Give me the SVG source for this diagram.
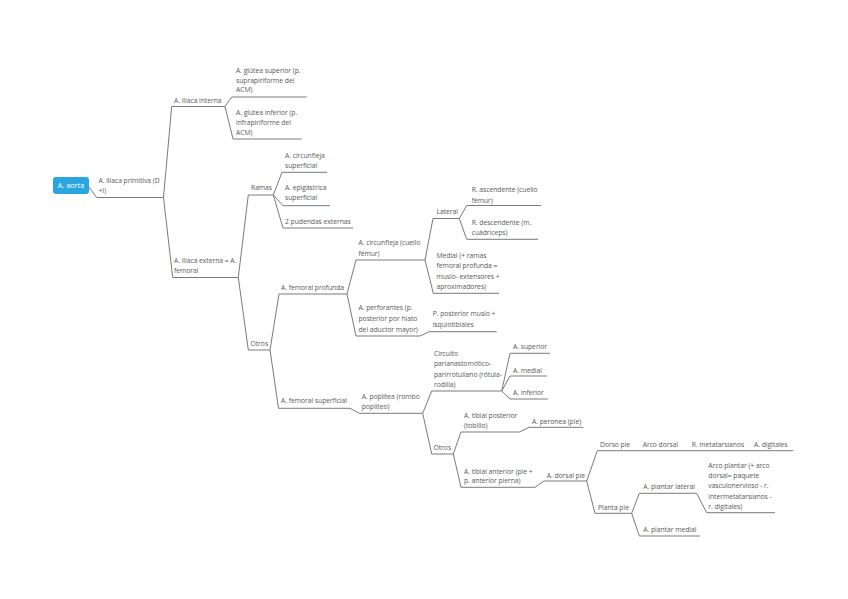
<svg xmlns="http://www.w3.org/2000/svg" width="848" height="599" viewBox="0 0 848 599">
<style>
.t{font-family:"Open Sans","Liberation Sans",sans-serif;font-size:6.8px;fill:#5a5a5a;letter-spacing:-0.05px;}
.u{stroke:#7a7a7a;stroke-width:1;fill:none;}
.c{stroke:#7a7a7a;stroke-width:1;fill:none;}
</style>
<rect width="848" height="599" fill="#fff"/>
<g id="connectors">
<path class="c" d="M88.5,186.5L96.7,197.5"/>
<path class="c" d="M163.5,197.5L171.7,106.5M163.5,197.5L172.7,277.5"/>
<path class="c" d="M225,106.5L231.7,97M225,106.5L233,139"/>
<path class="c" d="M238.3,277.5L248.3,195M238.3,277.5L248.3,350"/>
<path class="c" d="M273.3,195L282,172.3M273.3,195L283,205.7M273.3,195L283,228"/>
<path class="c" d="M270,350L279,294M270,350L278.5,408.3"/>
<path class="c" d="M347,294L356,260M347,294L356,336"/>
<path class="c" d="M425,260L433,218.5M425,260L433.3,293.3"/>
<path class="c" d="M459.3,218.5L466.7,205.5M459.3,218.5L466.7,239.3"/>
<path class="c" d="M420,336L429,331.7"/>
<path class="c" d="M350,408.3L359.3,413.3"/>
<path class="c" d="M422.7,413.3L431.7,391M422.7,413.3L431.7,454"/>
<path class="c" d="M501.7,391L510,353.3M501.7,391L510,376M501.7,391L510,399"/>
<path class="c" d="M453.3,454L461,432M453.3,454L461,487.3"/>
<path class="c" d="M519.3,432L529,427.3"/>
<path class="c" d="M535,487.3L544,481"/>
<path class="c" d="M586.7,481L597.3,450.7M586.7,481L595,513.3"/>
<path class="c" d="M631.7,513.3L639.3,493.3M631.7,513.3L639.3,536"/>
<path class="c" d="M696.7,493.3L706.7,512.7"/>
</g>
<g id="n-aorta">
<rect x="53" y="177" width="36" height="17" rx="3" fill="#2aa5e0"/>
<text x="71" y="188" text-anchor="middle" style="font-family:'Open Sans','Liberation Sans',sans-serif;font-size:7.3px;fill:#fff">A. aorta</text>
</g>
<g id="n-primitiva"><text class="t" x="98.5" y="182.5">A. iliaca primitiva (D</text><text class="t" x="98.5" y="193">+I)</text><path class="u" d="M96.7,197.5H163.5"/></g>
<g id="n-interna"><text class="t" x="174" y="102.5">A. iliaca interna</text><path class="u" d="M171.7,106.5H225"/></g>
<g id="n-gluteasup"><text class="t" x="236" y="72.5">A. glútea superior (p.</text><text class="t" x="236" y="82.5">suprapiriforme del</text><text class="t" x="236" y="92">ACM)</text><path class="u" d="M231.7,97H306.7"/></g>
<g id="n-gluteainf"><text class="t" x="236" y="115">A. glútea inferior (p.</text><text class="t" x="236" y="125">infrapiriforme del</text><text class="t" x="236" y="135">ACM)</text><path class="u" d="M233,139H301.7"/></g>
<g id="n-externa"><text class="t" x="174" y="262.5">A. iliaca externa = A.</text><text class="t" x="174" y="273">femoral</text><path class="u" d="M172.7,277.5H238.3"/></g>
<g id="n-ramas"><text class="t" x="251" y="190">Ramas</text><path class="u" d="M248.3,195H273.3"/></g>
<g id="n-circsup"><text class="t" x="285" y="157.5">A. circunfleja</text><text class="t" x="285" y="168">superficial</text><path class="u" d="M282,172.3H327"/></g>
<g id="n-epigastrica"><text class="t" x="285" y="190">A. epigástrica</text><text class="t" x="285" y="200">superficial</text><path class="u" d="M283,205.7H330"/></g>
<g id="n-pudendas"><text class="t" x="285" y="223.5">2 pudendas externas</text><path class="u" d="M283,228H353"/></g>
<g id="n-otros1"><text class="t" x="250.5" y="345.5">Otros</text><path class="u" d="M248.3,350H270"/></g>
<g id="n-femprof"><text class="t" x="281" y="289.5">A. femoral profunda</text><path class="u" d="M279,294H347"/></g>
<g id="n-circfemur"><text class="t" x="358.5" y="245">A. circunfleja  (cuello</text><text class="t" x="358.5" y="255.5">fémur)</text><path class="u" d="M356,260H425"/></g>
<g id="n-lateral"><text class="t" x="436.5" y="214">Lateral</text><path class="u" d="M433,218.5H459.3"/></g>
<g id="n-rasc"><text class="t" x="471.7" y="191.8">R. ascendente (cuello</text><text class="t" x="471.7" y="202.5">fémur)</text><path class="u" d="M466.7,205.5H541"/></g>
<g id="n-rdesc"><text class="t" x="471.7" y="224.8">R. descendente (m.</text><text class="t" x="471.7" y="235.2">cuádriceps)</text><path class="u" d="M466.7,239.3H538"/></g>
<g id="n-medial"><text class="t" x="436.5" y="257.5">Medial (+ ramas</text><text class="t" x="436.5" y="268.2">femoral profunda =</text><text class="t" x="436.5" y="278.5">muslo- extensores +</text><text class="t" x="436.5" y="289.2">aproximadores)</text><path class="u" d="M433.3,293.3H499"/></g>
<g id="n-perforantes"><text class="t" x="358.5" y="310">A. perforantes (p.</text><text class="t" x="358.5" y="321">posterior por hiato</text><text class="t" x="358.5" y="332">del aductor mayor)</text><path class="u" d="M356,336H420"/></g>
<g id="n-pposterior"><text class="t" x="432.7" y="316.3">P. posterior muslo +</text><text class="t" x="432.7" y="326.5">isquiotibiales</text><path class="u" d="M429,331.7H496.7"/></g>
<g id="n-femsup"><text class="t" x="281" y="403.2">A. femoral superficial</text><path class="u" d="M278.5,408.3H350"/></g>
<g id="n-poplitea"><text class="t" x="361.7" y="399.2">A. poplítea (rombo</text><text class="t" x="361.7" y="409">poplíteo)</text><path class="u" d="M359.3,413.3H422.7"/></g>
<g id="n-circuito"><text class="t" x="434" y="355.8">Circuito</text><text class="t" x="434" y="366">parianastomótico-</text><text class="t" x="434" y="376.8">parirrotuliano (rótula-</text><text class="t" x="434" y="386.8">rodilla)</text><path class="u" d="M431.7,391H501.7"/></g>
<g id="n-asup"><text class="t" x="513" y="349.2">A. superior</text><path class="u" d="M510,353.3H550"/></g>
<g id="n-amed"><text class="t" x="513" y="372.5">A. medial</text><path class="u" d="M510,376H547"/></g>
<g id="n-ainf"><text class="t" x="513" y="394.8">A. inferior</text><path class="u" d="M510,399H548"/></g>
<g id="n-otros2"><text class="t" x="433.5" y="449.8">Otros</text><path class="u" d="M431.7,454H453.3"/></g>
<g id="n-tibpost"><text class="t" x="464" y="418">A. tibial posterior</text><text class="t" x="464" y="427.8">(tobillo)</text><path class="u" d="M461,432H519.3"/></g>
<g id="n-peronea"><text class="t" x="532" y="423.5">A. peronea (pie)</text><path class="u" d="M529,427.3H583.3"/></g>
<g id="n-tibant"><text class="t" x="464" y="473.5">A. tibial anterior (pie +</text><text class="t" x="464" y="482.8">p. anterior pierna)</text><path class="u" d="M461,487.3H535"/></g>
<g id="n-dorsalpie"><text class="t" x="546.7" y="477.5">A. dorsal pie</text><path class="u" d="M544,481H586.7"/></g>
<g id="n-dorsopie"><text class="t" x="600" y="446.5">Dorso pie</text><path class="u" d="M597.3,450.7H634"/></g>
<g id="n-arcodorsal"><text class="t" x="642.7" y="446.5">Arco dorsal</text><path class="u" d="M634,450.7H683"/></g>
<g id="n-metatarsianos"><text class="t" x="691.7" y="446.5">R. metatarsianos</text><path class="u" d="M683,450.7H750"/></g>
<g id="n-digitales"><text class="t" x="754" y="446.5">A. digitales</text><path class="u" d="M750,450.7H793.3"/></g>
<g id="n-plantapie"><text class="t" x="598" y="509.8">Planta pie</text><path class="u" d="M595,513.3H631.7"/></g>
<g id="n-plantlat"><text class="t" x="643.3" y="489.2">A. plantar lateral</text><path class="u" d="M639.3,493.3H696.7"/></g>
<g id="n-arcoplantar"><text class="t" x="708.3" y="467.5">Arco plantar (+ arco</text><text class="t" x="708.3" y="477.5">dorsal= paquete</text><text class="t" x="708.3" y="487.5">vasculonervioso - r.</text><text class="t" x="708.3" y="498.5">intermetatarsianos -</text><text class="t" x="708.3" y="508.5">r. digitales)</text><path class="u" d="M706.7,512.7H775"/></g>
<g id="n-plantmed"><text class="t" x="643.3" y="531.5">A. plantar medial</text><path class="u" d="M639.3,536H700"/></g>
</svg>
